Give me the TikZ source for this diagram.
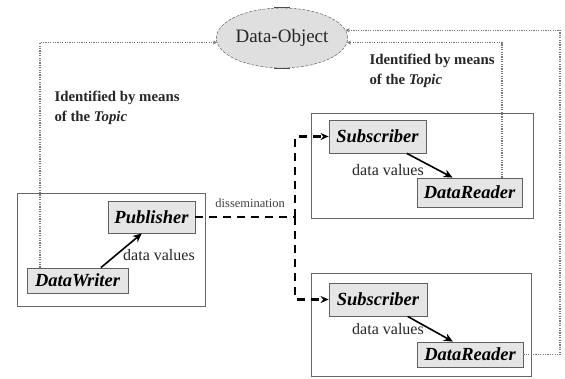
\documentclass[tikz,border=0pt]{standalone}
\usepackage{fontspec}
\setmainfont{Liberation Serif}
\usetikzlibrary{shapes.geometric,arrows.meta,calc,shadows}

\begin{document}
\begin{tikzpicture}[x=1pt,y=-1pt,
  comp/.style={draw=gray!75!black, fill=gray!20, line width=0.8pt, inner sep=0pt,
    font=\fontsize{18.5}{18.5}\selectfont\bfseries\itshape,
    drop shadow={shadow xshift=1.2pt, shadow yshift=-1.2pt, fill=gray!60, opacity=1}},
  frame/.style={draw=gray!80!black, line width=0.7pt, inner sep=0pt},
  flow/.style={-{Stealth[length=9pt,width=8pt]}, line width=1.6pt},
  link/.style={draw=black!52, line width=1.1pt, dash pattern=on 1.2pt off 1.2pt,
    -{Stealth[length=4pt,width=4pt]}},
  dissem/.style={line width=2.6pt, dash pattern=on 8pt off 6pt},
  lbl/.style={font=\fontsize{16}{16}\selectfont, text=black!85},
  note/.style={font=\fontsize{14.8}{20.5}\selectfont\bfseries, text=black!85, align=left, anchor=west}
]
\useasboundingbox (0,0) rectangle (565,378);

% containers
\node[frame, minimum width=188pt, minimum height=113pt] (pubframe) at (111,249.5) {};
\node[frame, minimum width=222pt, minimum height=105pt] (subframeA) at (422,165.5) {};
\node[frame, minimum width=220pt, minimum height=103pt] (subframeB) at (421,324.5) {};

% entities
\node[comp, minimum width=87pt, minimum height=32pt] (pub) at (151.5,217) {Publisher};
\node[comp, minimum width=101pt, minimum height=25pt] (dw) at (77.5,280.5) {DataWriter};
\node[comp, minimum width=97pt, minimum height=33pt] (subA) at (377.5,136.5) {Subscriber};
\node[comp, minimum width=105pt, minimum height=29pt] (drA) at (469.5,192.5) {DataReader};
\node[comp, minimum width=98pt, minimum height=33pt] (subB) at (378,299.5) {Subscriber};
\node[comp, minimum width=106pt, minimum height=25pt] (drB) at (470,354.5) {DataReader};

% data object
\node[ellipse, draw=gray!60!black, dash pattern=on 3pt off 1.5pt, fill=gray!25,
      minimum width=124pt, minimum height=60pt, inner sep=0pt,
      font=\fontsize{19}{19}\selectfont, text=black!85] (obj) at (282,38) {Data-Object};
\draw[line width=1.1pt, gray!60!black] ($(obj.north)+(-8,0)$) -- ($(obj.north)+(8,0)$);
\draw[line width=1.1pt, gray!60!black] ($(obj.south)+(-8,0)$) -- ($(obj.south)+(8,0)$);

% topic notes
\node[note] (noteL) at (51,108) {Identified by means\\of the \textit{Topic}};
\node[note] (noteR) at (366,71) {Identified by means\\of the \textit{Topic}};

% data flow inside containers
\draw[flow] ($(dw.north west)!0.73!(dw.north east)$) -- ($(pub.south west)!0.39!(pub.south east)$);
\node[lbl] (dvP) at (159,255) {data values};
\draw[flow] ($(subA.south west)!0.8!(subA.south east)$) -- ($(drA.north west)!0.34!(drA.north east)$);
\node[lbl] (dvA) at (388,170) {data values};
\draw[flow] ($(subB.south west)!0.8!(subB.south east)$) -- ($(drB.north west)!0.34!(drB.north east)$);
\node[lbl] (dvB) at (388,329) {data values};

% dissemination
\coordinate (jx) at (295,0);
\coordinate (junc) at (pub.east -| jx);
\draw[dissem] (pub.east) -- (junc)
  node[pos=0.55, above=5pt, font=\fontsize{12.5}{12.5}\selectfont, text=gray!50!black] {dissemination};
\draw[dissem, -{Stealth[length=8pt,width=7pt]}] (junc) |- (subA.west);
\draw[dissem, -{Stealth[length=8pt,width=7pt]}] (junc) |- (subB.west);

% topic identification links
\coordinate (lx) at (40,0);
\draw[link] (dw.north -| lx) -- (obj.184 -| lx) -- (obj.184);
\coordinate (rx) at (502,0);
\draw[link] (drA.north -| rx) -- (obj.356 -| rx) -- (obj.356);
\coordinate (ox) at (560,0);
\draw[link] (drB.east) -- (drB.east -| ox) -- (obj.7 -| ox) -- (obj.7);
\end{tikzpicture}
\end{document}
